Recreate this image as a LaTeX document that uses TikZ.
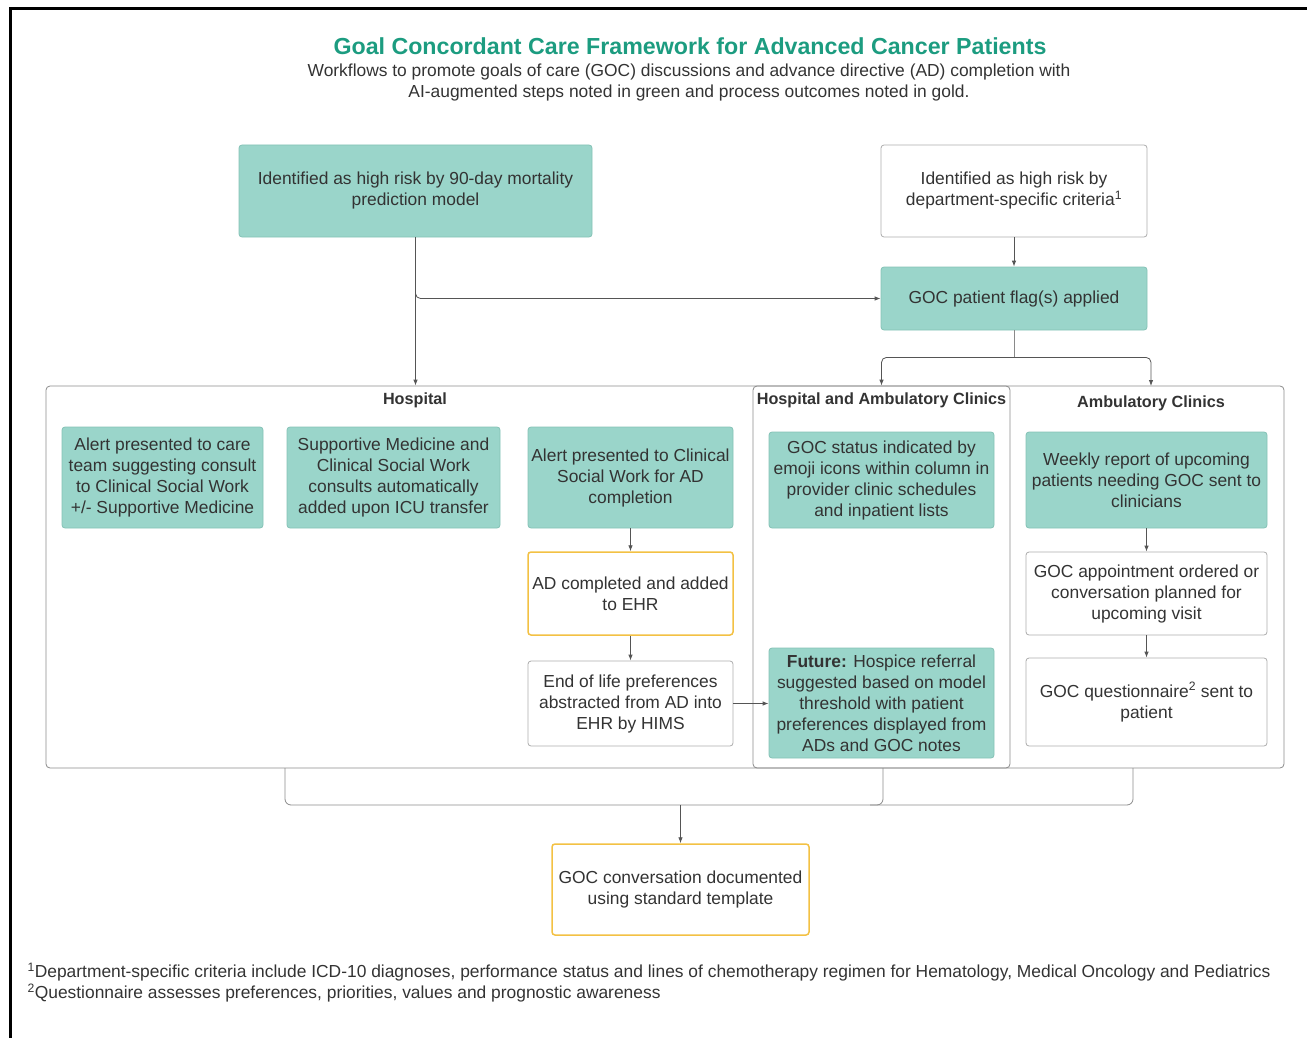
\documentclass[tikz,border=0pt]{standalone}
\usepackage{fontspec}
\setmainfont{Liberation Sans}
\usetikzlibrary{arrows.meta,calc}
\definecolor{tealf}{HTML}{9AD5CA}
\definecolor{teald}{HTML}{84C2B6}
\definecolor{goldc}{HTML}{F3C144}
\definecolor{txt}{HTML}{333333}
\definecolor{titlec}{HTML}{1C9C80}
\definecolor{linec}{HTML}{8A8A8A}
\definecolor{arrc}{HTML}{555555}
\newcommand{\fsz}{\fontsize{17.4}{21}\selectfont}
\begin{document}
\begin{tikzpicture}[x=1pt,y=-1pt,
  base/.style={rounded corners=3pt, font=\fsz, align=center, inner sep=0pt, text=txt, line width=0.8pt},
  tealbox/.style={base, fill=tealf, draw=teald},
  whitebox/.style={base, fill=white, draw=linec!70},
  goldbox/.style={base, fill=white, draw=goldc, line width=1.5pt},
  region/.style={draw=linec, line width=0.8pt, rounded corners=4pt, inner sep=0pt},
  lbl/.style={font=\fontsize{16.2}{19}\selectfont\bfseries, text=txt},
  conn/.style={draw=linec, line width=0.8pt},
  arr/.style={conn, -{Latex[length=6pt,width=4.5pt]}, arrc},
]
\useasboundingbox (0,0) rectangle (1307,1038);
% frame
\draw[black, line width=3pt] (10,1040) -- (10,9) -- (1310,9);

% title
\node[font=\fontsize{23.2}{27}\selectfont\bfseries, text=titlec] (title) at (690,46) {Goal Concordant Care Framework for Advanced Cancer Patients};
\node[font=\fsz, text=txt, align=center] (sub) at (689,82.5) {Workflows to promote goals of care (GOC) discussions and advance directive (AD) completion with\\AI-augmented steps noted in green and process outcomes noted in gold.};

% regions
\node[region, minimum width=1238, minimum height=382] (hosp) at (665,577) {};
\node[region, minimum width=257, minimum height=382] (ha) at (881.5,577) {};
\coordinate (amb) at (1151,386);
\node[lbl] (lh) at (415,400) {Hospital};
\node[lbl] (lha) at (881.5,400) {Hospital and Ambulatory Clinics};
\node[lbl] (lac) at (1151,403) {Ambulatory Clinics};

% top boxes
\node[tealbox, minimum width=353, minimum height=92] (A) at (415.5,191) {Identified as high risk by 90-day mortality\\prediction model};
\node[whitebox, minimum width=266, minimum height=92] (B) at (1014,191) {Identified as high risk by\\department-specific criteria\textsuperscript{1}};
\node[tealbox, minimum width=266, minimum height=63] (C) at (1014,298.5) {GOC patient flag(s) applied};

% hospital boxes
\node[tealbox, minimum width=201, minimum height=101] (H1) at (162.5,477.5) {Alert presented to care\\team suggesting consult\\to Clinical Social Work\\+/- Supportive Medicine};
\node[tealbox, minimum width=213, minimum height=101] (H2) at (393.5,477.5) {Supportive Medicine and\\Clinical Social Work\\consults automatically\\added upon ICU transfer};
\node[tealbox, minimum width=205, minimum height=101] (H3) at (630.5,477.5) {Alert presented to Clinical\\Social Work for AD\\completion};
\node[goldbox, minimum width=205, minimum height=83] (H4) at (630.5,593.5) {AD completed and added\\to EHR};
\node[whitebox, minimum width=205, minimum height=85] (H5) at (630.5,703.5) {End of life preferences\\abstracted from AD into\\EHR by HIMS};

% hospital & ambulatory boxes
\node[tealbox, minimum width=225, minimum height=96] (HA1) at (881.5,480) {GOC status indicated by\\emoji icons within column in\\provider clinic schedules\\and inpatient lists};
\node[tealbox, minimum width=225, minimum height=110] (HA2) at (881.5,703) {\textbf{Future:} Hospice referral\\suggested based on model\\threshold with patient\\preferences displayed from\\ADs and GOC notes};

% ambulatory boxes
\node[tealbox, minimum width=241, minimum height=96] (AC1) at (1146.5,480) {Weekly report of upcoming\\patients needing GOC sent to\\clinicians};
\node[whitebox, minimum width=241, minimum height=83] (AC2) at (1146.5,593.5) {GOC appointment ordered or\\conversation planned for\\upcoming visit};
\node[whitebox, minimum width=241, minimum height=88] (AC3) at (1146.5,702) {GOC questionnaire\textsuperscript{2} sent to\\patient};

% final
\node[goldbox, minimum width=257, minimum height=91] (F) at (680.5,889.5) {GOC conversation documented\\using standard template};

% footnotes
\node[font=\fsz, text=txt, anchor=west] (fn1) at (24,972) {\textsuperscript{1}Department-specific criteria include ICD-10 diagnoses, performance status and lines of chemotherapy regimen for Hematology, Medical Oncology and Pediatrics};
\node[font=\fsz, text=txt, anchor=west] (fn2) at (24,993) {\textsuperscript{2}Questionnaire assesses preferences, priorities, values and prognostic awareness};

% connectors top
\draw[arr] (A.south) -- (A.south |- hosp.north);
\draw[arr, rounded corners=5pt] (A.south) |- (C.west);
\draw[arr] (B.south) -- (C.north);
\coordinate (split) at ($(C.south)+(0,27)$);
\draw[conn] (C.south) -- (split);
\draw[arr, rounded corners=5pt] (split) -| (ha.north);
\draw[arr, rounded corners=5pt] (split) -| (amb);

% inner arrows
\draw[arr] (H3.south) -- (H4.north);
\draw[arr] (H4.south) -- (H5.north);
\draw[arr] (H5.east) -- (H5.east -| HA2.west);
\draw[arr] (AC1.south) -- (AC2.north);
\draw[arr] (AC2.south) -- (AC3.north);

% bottom connectors
\coordinate (b1) at (285,768);
\coordinate (b2) at (883,768);
\coordinate (b3) at (1133,768);
\coordinate (bm) at (680.5,805);
\draw[conn, rounded corners=6pt] (b1) -- (285,805) -- (1133,805) -- (b3);
\draw[conn, rounded corners=6pt] (b2) -- (883,805) -- (870,805);
\draw[arr] (bm) -- (F.north);
\end{tikzpicture}
\end{document}
